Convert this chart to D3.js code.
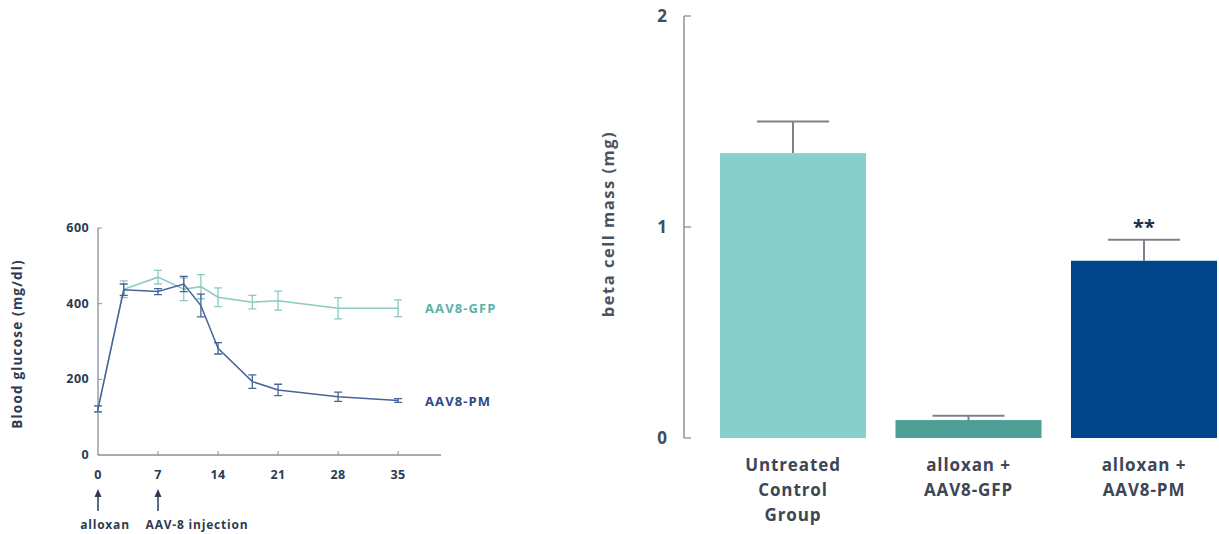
<!DOCTYPE html>
<html>
<head>
<meta charset="utf-8">
<script src="https://cdn.jsdelivr.net/npm/d3@7"></script>
<style>
  body { margin: 0; background: #fff; }
  svg text { font-family: "Open Sans", Lato, sans-serif; font-weight: bold; }
</style>
</head>
<body>
<div id="chart"></div>
<script>
// Line chart data (blood glucose, mg/dl)
const days = [0, 3, 7, 10, 12, 14, 18, 21, 28, 35];
const gfpMean = [122, 438, 470, 438, 445, 417, 404, 408, 388, 388];
const gfpErr = [8, 22, 18, 30, 32, 25, 18, 25, 28, 22];
const pmMean = [122, 437, 432, 452, 395, 282, 194, 172, 154, 144];
const pmErr = [8, 15, 8, 20, 30, 15, 18, 15, 12, 5];
const glucoseTicks = [0, 200, 400, 600];
const dayTicks = [0, 7, 14, 21, 28, 35];

// Bar chart data (beta cell mass, mg)
const groups = ["Untreated Control Group", "alloxan + AAV8-GFP", "alloxan + AAV8-PM"];
const groupLines = [["Untreated", "Control", "Group"], ["alloxan +", "AAV8-GFP"], ["alloxan +", "AAV8-PM"]];
const massMean = [1.35, 0.085, 0.84];
const massErr = [0.15, 0.02, 0.10];
const massTicks = [0, 1, 2];

const width = 1219, height = 534;
const svg = d3.select("#chart").append("svg")
  .attr("width", width).attr("height", height);

const axisColor = "#8a8f99";
const textColor = "#2d3b52";

// ---------- Line chart ----------
const x = d3.scaleLinear().domain([0, 40]).range([98, 441]);
const y = d3.scaleLinear().domain([0, 600]).range([455, 228]);

const left = svg.append("g");

left.append("line")
  .attr("x1", x(0)).attr("x2", x(0))
  .attr("y1", y(600)).attr("y2", y(0))
  .attr("stroke", axisColor).attr("stroke-width", 1.3);
left.append("line")
  .attr("x1", x(0)).attr("x2", x(40))
  .attr("y1", y(0)).attr("y2", y(0))
  .attr("stroke", axisColor).attr("stroke-width", 1.3);

// y ticks (inward)
left.selectAll(".yt").data(glucoseTicks.filter(d => d > 0)).enter().append("line")
  .attr("x1", x(0)).attr("x2", x(0) + 4)
  .attr("y1", d => y(d)).attr("y2", d => y(d))
  .attr("stroke", axisColor);
left.selectAll(".yl").data(glucoseTicks).enter().append("text")
  .attr("x", 89).attr("y", d => y(d) + 4)
  .attr("text-anchor", "end").attr("font-size", 12.5)
  .attr("letter-spacing", 0.4)
  .attr("fill", textColor).text(d => d);

// x ticks (inward)
left.selectAll(".xt").data(dayTicks.filter(d => d > 0)).enter().append("line")
  .attr("x1", d => x(d)).attr("x2", d => x(d))
  .attr("y1", y(0)).attr("y2", y(0) - 4)
  .attr("stroke", axisColor);
left.selectAll(".xl").data(dayTicks).enter().append("text")
  .attr("x", d => x(d)).attr("y", 479)
  .attr("text-anchor", "middle").attr("font-size", 12.5)
  .attr("letter-spacing", 0.4)
  .attr("fill", textColor).text(d => d);

left.append("text")
  .attr("transform", "translate(22,344) rotate(-90)")
  .attr("text-anchor", "middle").attr("font-size", 13.5)
  .attr("letter-spacing", 1.2)
  .attr("fill", textColor).text("Blood glucose (mg/dl)");

// arrows + annotations
const marks = [{ day: 0, label: "alloxan", cx: 105 }, { day: 7, label: "AAV-8 injection", cx: 197 }];
marks.forEach(m => {
  left.append("line")
    .attr("x1", x(m.day)).attr("x2", x(m.day))
    .attr("y1", 511).attr("y2", 495)
    .attr("stroke", textColor).attr("stroke-width", 1.5);
  left.append("path")
    .attr("d", `M${x(m.day) - 3.5},497 L${x(m.day)},489 L${x(m.day) + 3.5},497 Z`)
    .attr("fill", textColor);
  left.append("text").attr("x", m.cx).attr("y", 529)
    .attr("text-anchor", "middle").attr("font-size", 12)
    .attr("letter-spacing", 0.8)
    .attr("fill", textColor).text(m.label);
});

const series = [
  { name: "AAV8-GFP", mean: gfpMean, err: gfpErr, color: "#8ccac1", label: "#5ab3a6" },
  { name: "AAV8-PM", mean: pmMean, err: pmErr, color: "#46649a", label: "#2c4a88" }
];

const line = d3.line().x(d => x(d.day)).y(d => y(d.v));

series.forEach(s => {
  const pts = days.map((d, i) => ({ day: d, v: s.mean[i], e: s.err[i] }));
  const g = left.append("g");
  g.append("path").datum(pts)
    .attr("d", line).attr("fill", "none")
    .attr("stroke", s.color).attr("stroke-width", 1.5);
  g.selectAll(".eb").data(pts).enter().append("path")
    .attr("d", d => {
      const cx = x(d.day), y1 = y(d.v + d.e), y2 = y(d.v - d.e);
      return `M${cx},${y1} L${cx},${y2} M${cx - 4},${y1} L${cx + 4},${y1} M${cx - 4},${y2} L${cx + 4},${y2}`;
    })
    .attr("fill", "none").attr("stroke", s.color).attr("stroke-width", 1.3);
  g.append("text")
    .attr("x", 425).attr("y", y(s.mean[s.mean.length - 1]) + 5)
    .attr("font-size", 13).attr("letter-spacing", 1.1)
    .attr("fill", s.label).text(s.name);
});

// ---------- Bar chart ----------
const xb = d3.scaleBand().domain(groups)
  .range([705.25, 1231.75]).paddingInner(0.168).paddingOuter(0.084);
const yb = d3.scaleLinear().domain([0, 2]).range([438, 16]);
const barColors = ["#86cfcb", "#4b9f95", "#004489"];
const right = svg.append("g");

right.append("line")
  .attr("x1", 684).attr("x2", 684)
  .attr("y1", yb(2)).attr("y2", yb(0))
  .attr("stroke", axisColor).attr("stroke-width", 1.5);
right.selectAll(".bt").data(massTicks).enter().append("line")
  .attr("x1", 684).attr("x2", 691)
  .attr("y1", d => yb(d)).attr("y2", d => yb(d))
  .attr("stroke", axisColor).attr("stroke-width", 1.3);
right.selectAll(".bl").data(massTicks).enter().append("text")
  .attr("x", 667).attr("y", d => yb(d) + 6)
  .attr("text-anchor", "end").attr("font-size", 17)
  .attr("fill", "#444c58").text(d => d);

right.append("text")
  .attr("transform", "translate(614,224) rotate(-90)")
  .attr("text-anchor", "middle").attr("font-size", 16.5)
  .attr("letter-spacing", 1.5)
  .attr("fill", "#4a5260").text("beta cell mass (mg)");

// error bars first so bars sit on top
right.selectAll(".err").data(groups).enter().append("path")
  .attr("d", (d, i) => {
    const cx = xb(d) + xb.bandwidth() / 2, top = yb(massMean[i] + massErr[i]);
    const half = 36;
    return `M${cx},${yb(massMean[i])} L${cx},${top} M${cx - half},${top} L${cx + half},${top}`;
  })
  .attr("fill", "none").attr("stroke", "#7d828c").attr("stroke-width", 2);

right.selectAll(".bar").data(groups).enter().append("rect")
  .attr("x", d => xb(d)).attr("width", xb.bandwidth())
  .attr("y", (d, i) => yb(massMean[i]))
  .attr("height", (d, i) => yb(0) - yb(massMean[i]))
  .attr("fill", (d, i) => barColors[i]);

right.append("text")
  .attr("x", xb(groups[2]) + xb.bandwidth() / 2).attr("y", yb(massMean[2] + massErr[2]) - 6)
  .attr("text-anchor", "middle").attr("font-size", 20)
  .attr("fill", "#1c2f4f").text("**");

groups.forEach((g, i) => {
  const t = right.append("text")
    .attr("x", xb(g) + xb.bandwidth() / 2).attr("y", 471)
    .attr("text-anchor", "middle").attr("font-size", 17)
    .attr("letter-spacing", 0.9)
    .attr("fill", "#3c4656");
  groupLines[i].forEach((ln, j) => {
    t.append("tspan").attr("x", xb(g) + xb.bandwidth() / 2)
      .attr("dy", j === 0 ? 0 : 25).text(ln);
  });
});
</script>
</body>
</html>
